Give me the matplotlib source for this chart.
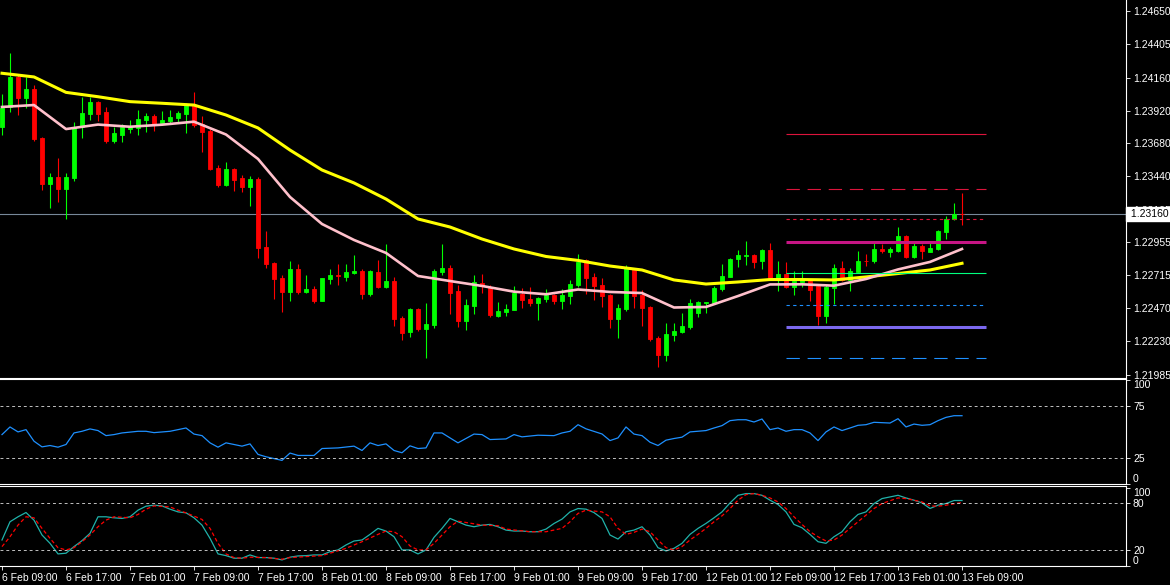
import matplotlib
matplotlib.use("Agg")
import matplotlib.pyplot as plt
import matplotlib.transforms as mtransforms

plt.rcParams["font.family"] = ["Liberation Sans", "DejaVu Sans"]

# hourly EURUSD-style bars, 6 Feb 09:00 .. 13 Feb 09:00
opens = [1.23802, 1.23949, 1.24169, 1.24015, 1.24079, 1.23722, 1.23382, 1.23436, 1.23346, 1.23428,
         1.23798, 1.23895, 1.23983, 1.23910, 1.23697, 1.23741, 1.23785, 1.23791, 1.23851, 1.23881,
         1.23827, 1.23844, 1.23866, 1.23895, 1.23961, 1.23822, 1.23773, 1.23502, 1.23375, 1.23492,
         1.23426, 1.23362, 1.23419, 1.22918, 1.22803, 1.22695, 1.22593, 1.22759, 1.22593, 1.22613,
         1.22527, 1.22688, 1.22715, 1.22703, 1.22732, 1.22745, 1.22578, 1.22737, 1.22629, 1.22671,
         1.22400, 1.22300, 1.22466, 1.22319, 1.22349, 1.22737, 1.22767, 1.22598, 1.22380, 1.22490,
         1.22654, 1.22625, 1.22417, 1.22446, 1.22459, 1.22576, 1.22539, 1.22512, 1.22539, 1.22569,
         1.22525, 1.22564, 1.22642, 1.22825, 1.22698, 1.22642, 1.22569, 1.22393, 1.22466, 1.22764,
         1.22569, 1.22483, 1.22256, 1.22129, 1.22275, 1.22300, 1.22336, 1.22439, 1.22511, 1.22512,
         1.22613, 1.22703, 1.22830, 1.22855, 1.22862, 1.22820, 1.22898, 1.22686, 1.22723, 1.22629,
         1.22666, 1.22671, 1.22635, 1.22415, 1.22618, 1.22769, 1.22679, 1.22739, 1.22820, 1.22820,
         1.22906, 1.22886, 1.22893, 1.23001, 1.22849, 1.22928, 1.22886, 1.22906, 1.23033, 1.23124,
         1.23162]
highs = [1.24042, 1.24343, 1.24181, 1.24169, 1.24108, 1.23729, 1.23463, 1.23575, 1.23463, 1.23837,
         1.24022, 1.24022, 1.23991, 1.23947, 1.23798, 1.23822, 1.23851, 1.23925, 1.23905, 1.23895,
         1.23920, 1.23925, 1.23917, 1.23974, 1.24059, 1.23881, 1.23783, 1.23522, 1.23541, 1.23497,
         1.23448, 1.23441, 1.23431, 1.23038, 1.22811, 1.22713, 1.22818, 1.22796, 1.22715, 1.22635,
         1.22693, 1.22759, 1.22796, 1.22796, 1.22862, 1.22757, 1.22752, 1.22825, 1.22942, 1.22698,
         1.22415, 1.22476, 1.22473, 1.22508, 1.22759, 1.22942, 1.22786, 1.22642, 1.22537, 1.22715,
         1.22723, 1.22642, 1.22520, 1.22503, 1.22635, 1.22618, 1.22625, 1.22556, 1.22610, 1.22576,
         1.22613, 1.22679, 1.22869, 1.22830, 1.22728, 1.22691, 1.22574, 1.22503, 1.22789, 1.22770,
         1.22605, 1.22488, 1.22268, 1.22361, 1.22361, 1.22435, 1.22539, 1.22525, 1.22520, 1.22635,
         1.22796, 1.22838, 1.22898, 1.22964, 1.22869, 1.22906, 1.22950, 1.22818, 1.22811, 1.22745,
         1.22745, 1.22682, 1.22642, 1.22640, 1.22796, 1.22818, 1.22764, 1.22893, 1.22869, 1.22948,
         1.22942, 1.22918, 1.23069, 1.23008, 1.22948, 1.22942, 1.22948, 1.23045, 1.23148, 1.23245,
         1.23319]
lows = [1.23741, 1.23910, 1.23888, 1.23939, 1.23700, 1.23338, 1.23209, 1.23250, 1.23126, 1.23406,
        1.23722, 1.23851, 1.23844, 1.23685, 1.23685, 1.23692, 1.23758, 1.23741, 1.23766, 1.23773,
        1.23815, 1.23832, 1.23839, 1.23758, 1.23798, 1.23619, 1.23485, 1.23362, 1.23368, 1.23333,
        1.23326, 1.23223, 1.22842, 1.22769, 1.22542, 1.22446, 1.22527, 1.22574, 1.22586, 1.22508,
        1.22527, 1.22649, 1.22642, 1.22673, 1.22725, 1.22537, 1.22561, 1.22618, 1.22622, 1.22344,
        1.22239, 1.22259, 1.22307, 1.22109, 1.22329, 1.22715, 1.22429, 1.22336, 1.22312, 1.22429,
        1.22586, 1.22410, 1.22410, 1.22417, 1.22455, 1.22476, 1.22490, 1.22385, 1.22520, 1.22503,
        1.22466, 1.22503, 1.22625, 1.22576, 1.22532, 1.22483, 1.22329, 1.22256, 1.22454, 1.22476,
        1.22341, 1.22231, 1.22043, 1.22087, 1.22234, 1.22288, 1.22317, 1.22410, 1.22435, 1.22508,
        1.22600, 1.22698, 1.22772, 1.22789, 1.22769, 1.22759, 1.22682, 1.22600, 1.22620, 1.22569,
        1.22625, 1.22527, 1.22349, 1.22366, 1.22503, 1.22671, 1.22600, 1.22732, 1.22781, 1.22805,
        1.22874, 1.22849, 1.22886, 1.22842, 1.22838, 1.22833, 1.22882, 1.22898, 1.22979, 1.23118,
        1.23082]
closes = [1.23937, 1.24169, 1.24010, 1.24079, 1.23712, 1.23382, 1.23436, 1.23346, 1.23436, 1.23798,
          1.23903, 1.23983, 1.23895, 1.23697, 1.23754, 1.23798, 1.23798, 1.23859, 1.23881, 1.23822,
          1.23851, 1.23873, 1.23901, 1.23961, 1.23815, 1.23766, 1.23492, 1.23375, 1.23492, 1.23412,
          1.23362, 1.23417, 1.22915, 1.22798, 1.22684, 1.22593, 1.22759, 1.22593, 1.22613, 1.22527,
          1.22693, 1.22715, 1.22710, 1.22737, 1.22745, 1.22578, 1.22745, 1.22629, 1.22671, 1.22393,
          1.22292, 1.22466, 1.22319, 1.22356, 1.22745, 1.22767, 1.22586, 1.22380, 1.22495, 1.22664,
          1.22642, 1.22422, 1.22451, 1.22468, 1.22586, 1.22532, 1.22512, 1.22549, 1.22569, 1.22525,
          1.22569, 1.22649, 1.22813, 1.22695, 1.22635, 1.22561, 1.22393, 1.22476, 1.22772, 1.22564,
          1.22476, 1.22246, 1.22129, 1.22283, 1.22305, 1.22341, 1.22512, 1.22517, 1.22514, 1.22622,
          1.22708, 1.22833, 1.22862, 1.22860, 1.22813, 1.22898, 1.22686, 1.22723, 1.22625, 1.22673,
          1.22679, 1.22605, 1.22415, 1.22629, 1.22769, 1.22679, 1.22745, 1.22818, 1.22816, 1.22906,
          1.22893, 1.22906, 1.23001, 1.22849, 1.22928, 1.22893, 1.22911, 1.23038, 1.23124, 1.23160,
          1.23160]

# moving averages read every 4 bars
ma_idx = list(range(0, 121, 4))
ma_slow = [1.24194, 1.24167, 1.24054, 1.24022, 1.23986, 1.23974, 1.23961, 1.23888, 1.23793, 1.23631,
           1.23485, 1.23390, 1.23272, 1.23126, 1.23067, 1.22979, 1.22906, 1.22851, 1.22822, 1.22781,
           1.22752, 1.22679, 1.22649, 1.22664, 1.22682, 1.22682, 1.22679, 1.22701, 1.22726, 1.22752,
           1.22801]
ma_fast = [1.23947, 1.23961, 1.23785, 1.23818, 1.23802, 1.23817, 1.23839, 1.23745, 1.23566, 1.23287,
           1.23089, 1.22972, 1.22877, 1.22708, 1.22671, 1.22635, 1.22593, 1.22574, 1.22609, 1.22591,
           1.22583, 1.22477, 1.22481, 1.22561, 1.22646, 1.22647, 1.22637, 1.22686, 1.22756, 1.22811,
           1.22906]

# horizontal levels drawn on the right part of the chart
level_prices = [1.23746, 1.23349, 1.23123, 1.22959, 1.22731, 1.22498, 1.22333, 1.22108]
level_colors = ["#dc143c", "#dc143c", "#dc143c", "#c71585", "#00ff7f", "#1e90ff", "#7b68ee", "#1e90ff"]
level_widths = [0.8, 0.8, 0.8, 2.2, 0.8, 0.8, 2.2, 0.8]
level_styles = ["-", (0, (12, 7)), (0, (3, 3)), "-", "-", (0, (3, 3)), "-", (0, (12, 7))]
level_start, level_end = 98, 123

price_ticks = [1.24650, 1.24405, 1.24160, 1.23920, 1.23680, 1.23440, 1.23195,
               1.22955, 1.22715, 1.22470, 1.22230, 1.21985]

rsi_idx = [0, 1, 2, 3, 4, 5, 6, 7, 8, 9, 10, 11, 12, 13, 14, 15, 17, 18, 19, 21, 22, 23, 24, 25, 26,
           27, 28, 29, 30, 31, 32, 33, 35, 36, 37, 39, 40, 42, 44, 45, 46, 47, 48, 49, 50, 51, 52, 53,
           54, 55, 57, 59, 60, 61, 63, 64, 65, 67, 69, 70, 71, 72, 73, 75, 76, 77, 78, 79, 80, 81, 82,
           83, 84, 85, 86, 88, 89, 90, 91, 92, 93, 94, 95, 96, 97, 98, 99, 100, 101, 102, 103, 104,
           105, 106, 107, 108, 109, 111, 112, 113, 114, 115, 116, 117, 118, 119, 120]
rsi_vals = [47.4, 54.8, 50.0, 52.2, 41.0, 35.5, 36.8, 35.2, 37.8, 49.0, 50.6, 52.9, 51.3, 46.4, 47.4,
            49.0, 50.6, 50.6, 49.3, 50.6, 52.2, 53.8, 47.9, 46.4, 39.4, 35.2, 39.4, 37.8, 36.2, 38.4,
            28.2, 25.9, 22.4, 29.5, 27.2, 27.2, 33.9, 34.5, 36.2, 32.0, 39.4, 36.8, 38.4, 32.0, 29.8,
            36.5, 33.9, 34.5, 49.0, 49.0, 39.4, 47.9, 47.4, 42.6, 43.2, 47.4, 45.2, 46.8, 46.4, 49.0,
            50.6, 57.0, 53.0, 48.0, 41.6, 44.2, 54.8, 47.9, 46.4, 40.0, 36.8, 42.0, 43.6, 44.9, 50.0,
            51.3, 53.8, 56.1, 60.9, 61.8, 61.8, 59.6, 62.5, 52.2, 53.8, 50.6, 52.2, 52.2, 49.0, 41.6,
            50.0, 54.8, 51.3, 53.8, 56.4, 57.0, 59.3, 58.6, 62.8, 54.8, 57.6, 56.4, 57.0, 60.9, 64.1,
            65.7, 65.7]

stoch_main = [32.8, 56.2, 62.6, 68.1, 58.3, 39.2, 28.5, 14.9, 15.8, 24.3, 31.9, 41.3, 62.6, 62.6, 61.3,
              60.5, 62.6, 71.1, 76.2, 77.5, 76.6, 72.4, 68.9, 67.7, 61.3, 51.9, 34.9, 14.9, 12.7, 9.4,
              9.4, 13.6, 10.2, 10.2, 9.4, 7.2, 10.7, 12.3, 12.7, 13.6, 13.6, 17.8, 20.0, 26.4, 31.5,
              32.8, 40.0, 47.7, 44.3, 37.0, 20.0, 20.0, 14.9, 20.0, 36.2, 47.7, 60.5, 56.2, 51.9, 49.8,
              51.9, 52.8, 49.8, 45.5, 44.3, 44.3, 43.4, 43.4, 46.8, 54.0, 59.6, 68.9, 73.2, 72.4, 68.0,
              60.5, 39.2, 34.0, 43.4, 45.5, 49.8, 39.2, 22.9, 18.7, 22.1, 28.5, 40.0, 47.7, 54.1, 61.3,
              68.9, 80.4, 90.2, 92.4, 92.4, 90.2, 83.9, 78.4, 68.9, 52.8, 48.5, 40.0, 30.6, 28.5, 37.0,
              43.4, 56.2, 65.6, 68.9, 79.6, 86.0, 88.1, 90.2, 86.8, 83.9, 80.4, 73.3, 77.5, 79.6, 83.5,
              83.5]
sig_idx = [0, 1, 2, 3, 4, 5, 6, 7, 8, 9, 10, 11, 12, 13, 14, 16, 17, 18, 19, 21, 22, 23, 25, 26, 27,
           28, 29, 30, 31, 33, 35, 36, 38, 40, 41, 43, 45, 47, 48, 49, 50, 51, 52, 53, 54, 56, 57, 58,
           60, 62, 63, 66, 68, 70, 71, 72, 73, 75, 76, 77, 78, 79, 80, 81, 82, 83, 84, 85, 86, 87, 88,
           89, 90, 91, 92, 93, 94, 95, 96, 97, 98, 99, 100, 101, 102, 103, 104, 105, 106, 107, 108,
           109, 110, 112, 113, 114, 115, 116, 117, 118, 120]
sig_vals = [24.3, 37.0, 51.9, 62.6, 61.3, 47.7, 34.9, 22.9, 20.0, 22.9, 30.6, 39.2, 49.8, 58.3, 62.6,
            61.3, 65.6, 72.4, 76.6, 75.3, 71.1, 67.7, 59.2, 47.7, 28.5, 14.9, 10.2, 9.4, 10.7, 10.2,
            8.1, 10.2, 11.5, 12.7, 15.8, 22.1, 30.6, 40.0, 44.3, 43.4, 37.0, 25.1, 20.0, 20.0, 28.5,
            49.8, 57.0, 55.3, 51.9, 51.1, 46.8, 43.4, 43.4, 47.7, 56.2, 66.9, 71.1, 68.9, 62.6, 47.7,
            40.0, 42.6, 46.8, 43.4, 32.8, 22.9, 20.0, 24.3, 32.8, 40.0, 47.7, 56.2, 63.8, 73.2, 83.9,
            91.1, 92.4, 90.2, 86.8, 81.7, 73.2, 62.6, 52.8, 43.4, 37.0, 31.5, 32.8, 39.2, 47.7, 56.2,
            64.7, 73.2, 79.6, 86.8, 86.0, 83.9, 81.7, 76.6, 76.2, 77.5, 81.0]

time_labels = ["6 Feb 09:00", "6 Feb 17:00", "7 Feb 01:00", "7 Feb 09:00", "7 Feb 17:00",
               "8 Feb 01:00", "8 Feb 09:00", "8 Feb 17:00", "9 Feb 01:00", "9 Feb 09:00",
               "9 Feb 17:00", "12 Feb 01:00", "12 Feb 09:00", "12 Feb 17:00", "13 Feb 01:00",
               "13 Feb 09:00"]

bg = "black"
fs = 7.5
fig = plt.figure(figsize=(11.7, 5.85), dpi=100, facecolor=bg)
ax = fig.add_axes([0, 0.3538, 0.9624, 0.6462])
ax_rsi = fig.add_axes([0, 0.1735, 0.9624, 0.1778])
ax_st = fig.add_axes([0, 0.0325, 0.9624, 0.1368])

for a in (ax, ax_rsi, ax_st):
    a.set_facecolor(bg)
    a.set_xlim(-0.25, 140.5)
    for s in a.spines.values():
        s.set_color("white")
        s.set_linewidth(0.8)
    a.spines["left"].set_visible(False)
    a.yaxis.tick_right()
    a.tick_params(axis="y", colors="white", labelsize=fs, length=3, width=0.6, pad=2)
    a.tick_params(axis="x", colors="white", labelsize=fs, length=3, width=0.6, pad=2)
ax.spines["top"].set_visible(False)

# main price chart
bars = list(range(len(opens)))
cols = ["#00ff00" if c >= o else "#ff0000" for o, c in zip(opens, closes)]
ax.axhline(closes[-1], color="#778899", lw=0.8, zorder=1)
ax.vlines(bars, lows, highs, colors=cols, linewidth=0.8, zorder=2)
ax.bar(bars, [c - o for o, c in zip(opens, closes)], bottom=opens, width=0.56,
       color=cols, edgecolor=cols, linewidth=0.6, zorder=2)
ax.plot(ma_idx, ma_slow, color="#ffff00", lw=2.2, zorder=3)
ax.plot(ma_idx, ma_fast, color="#ffc0cb", lw=1.9, zorder=3)
for p, c, w, ls in zip(level_prices, level_colors, level_widths, level_styles):
    ax.hlines(p, level_start, level_end, colors=c, linewidth=w, linestyles=[ls], zorder=4)

ax.set_ylim(1.21960, 1.24731)
ax.set_yticks(price_ticks)
ax.set_yticklabels([f"{v:.5f}" for v in price_ticks])
ax.set_xticks([])
trans = mtransforms.blended_transform_factory(ax.transAxes, ax.transData)
ax.text(1.0015, closes[-1], f" {closes[-1]:.5f} ", transform=trans, ha="left", va="center",
        fontsize=fs, color="black", clip_on=False, zorder=10,
        bbox=dict(boxstyle="square,pad=0.2", fc="white", ec="white"))

# RSI
ax_rsi.plot(rsi_idx, rsi_vals, color="#1e90ff", lw=0.9)
for lv in (75, 25):
    ax_rsi.axhline(lv, color="#c0c0c0", lw=0.7, ls=(0, (3, 3)))
ax_rsi.set_ylim(0.8, 100.8)
ax_rsi.set_yticks([100, 75, 25, 0])
ax_rsi.set_yticklabels(["100", "75", "25", "0"])
ax_rsi.get_yticklabels()[0].set_va("top")
ax_rsi.get_yticklabels()[-1].set_va("bottom")
ax_rsi.set_xticks([])

# Stochastic
ax_st.plot(bars, stoch_main, color="#20b2aa", lw=0.9)
ax_st.plot(sig_idx, sig_vals, color="#ff0000", lw=0.9, ls=(0, (3, 2)))
for lv in (80, 20):
    ax_st.axhline(lv, color="#c0c0c0", lw=0.7, ls=(0, (3, 3)))
ax_st.set_ylim(-0.6, 102.2)
ax_st.set_yticks([100, 80, 20, 0])
ax_st.set_yticklabels(["100", "80", "20", "0"])
ax_st.get_yticklabels()[0].set_va("top")
ax_st.get_yticklabels()[-1].set_va("bottom")
ax_st.set_xticks(list(range(0, 121, 8)))
ax_st.set_xticklabels(time_labels)
for lab in ax_st.get_xticklabels():
    lab.set_ha("left")

fig.savefig("out.png", dpi=100, facecolor=bg)
